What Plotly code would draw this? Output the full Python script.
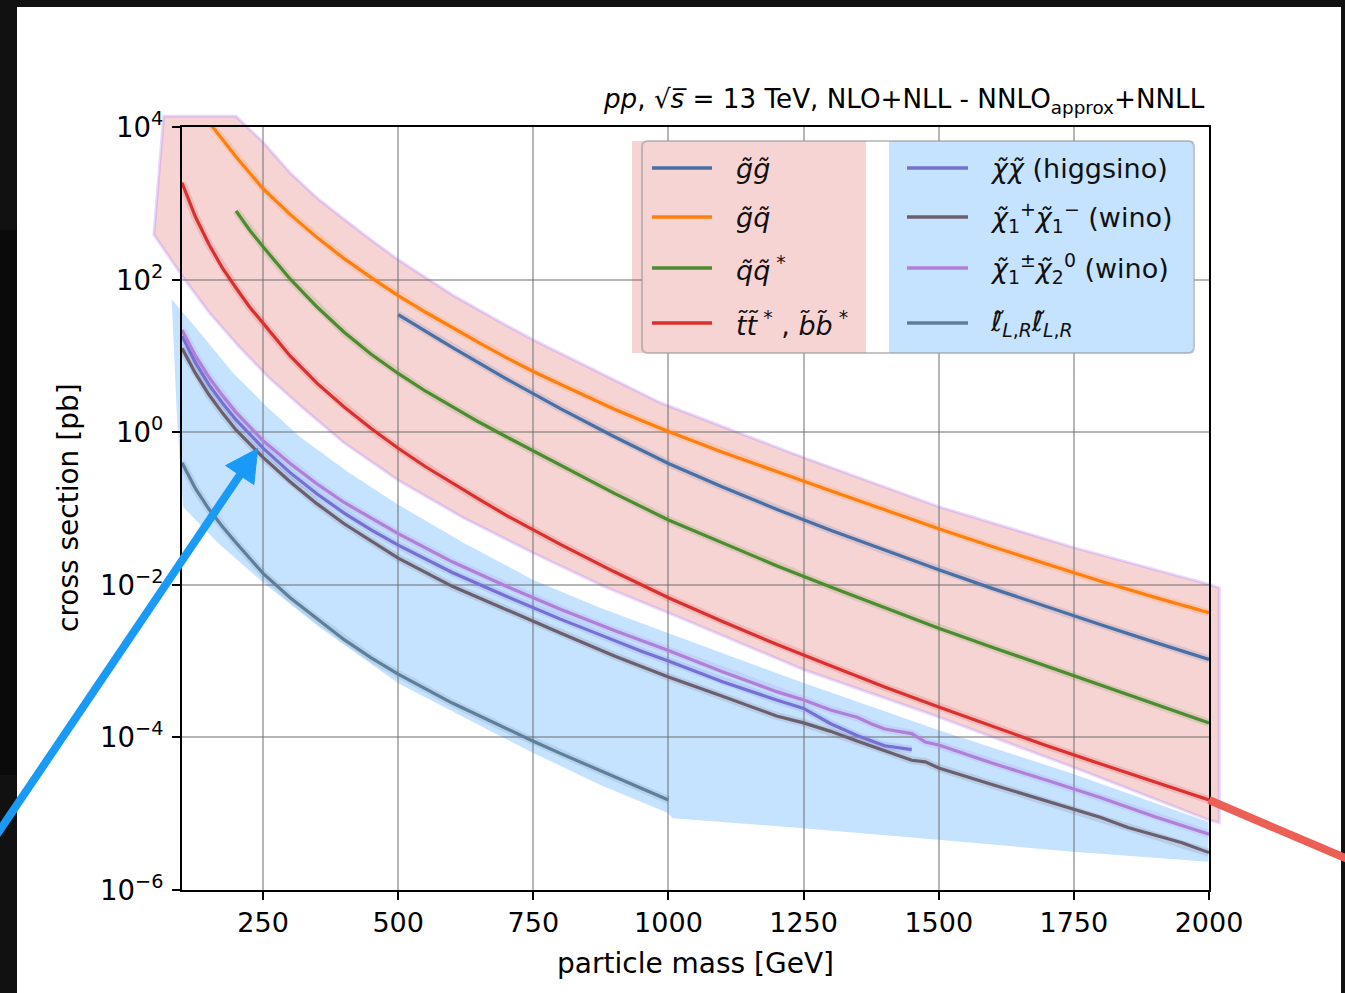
import plotly.graph_objects as go
import numpy as np

# ---------------- data (cross sections in pb vs particle mass in GeV) ----------------
mass_gg = [500, 600, 700, 800, 900, 1000, 1100, 1200, 1300, 1400, 1500, 1600, 1700, 1800, 1900, 2000]
xsec_gg = [34.7, 12.9, 5.01, 2.04, 0.871, 0.389, 0.191, 0.0977, 0.0519, 0.0282, 0.0157,
           0.00891, 0.00513, 0.00299, 0.00176, 0.00105]

mass_gq = [150, 200, 250, 300, 350, 400, 450, 500, 550, 600, 650, 700, 750, 800, 850, 900, 950,
           1000, 1100, 1200, 1250, 1300, 1400, 1500, 1600, 1700, 1800, 1900, 2000]
xsec_gq = [11500, 4070, 1550, 716, 355, 188, 106, 61.7, 37.6, 23.3, 14.8, 9.51, 6.24, 4.25,
           2.89, 2.00, 1.42, 1.02, 0.546, 0.303, 0.228, 0.171, 0.0961, 0.0541, 0.0315, 0.0185,
           0.0111, 0.00684, 0.00430]

mass_qq = [200, 225, 250, 300, 350, 400, 450, 500, 550, 600, 650, 700, 750, 800, 900, 1000,
           1100, 1200, 1300, 1400, 1500, 1600, 1700, 1800, 1900, 2000]
xsec_qq = [794, 447, 269, 102, 43.7, 20.4, 10.5, 5.89, 3.47, 2.14, 1.35, 0.871, 0.569, 0.372,
           0.158, 0.0708, 0.0355, 0.0178, 0.00933, 0.00501, 0.00269, 0.00151, 0.000851,
           0.000479, 0.000269, 0.000155]

mass_tt = [100, 125, 150, 175, 200, 225, 250, 300, 350, 400, 450, 500, 550, 600, 650, 700, 750,
           800, 900, 1000, 1100, 1200, 1300, 1400, 1500, 1600, 1700, 1800, 1900, 2000]
xsec_tt = [1860, 661, 288, 141, 77.6, 43.7, 26.9, 10.0, 4.37, 2.14, 1.12, 0.617, 0.355, 0.214,
           0.132, 0.0813, 0.0525, 0.0339, 0.0148, 0.00676, 0.00331, 0.00166, 0.000871,
           0.000457, 0.000251, 0.000138, 7.76e-5, 4.47e-5, 2.57e-5, 1.51e-5]

mass_hh = [100, 125, 150, 175, 200, 250, 300, 350, 400, 450, 500, 600, 700, 800, 875, 900, 950,
           1000, 1050, 1100, 1200, 1250, 1300, 1350, 1400, 1450]
xsec_hh = [18.2, 8.13, 4.17, 2.40, 1.45, 0.617, 0.295, 0.155, 0.0871, 0.0525, 0.0331, 0.0145,
           0.00708, 0.00355, 0.00219, 0.00186, 0.00135, 0.00100, 0.000724, 0.000537,
           0.000309, 0.000240, 0.000151, 0.000105, 7.76e-5, 6.92e-5]

mass_c1c1 = [100, 125, 150, 175, 200, 250, 300, 350, 400, 450, 500, 600, 700, 750, 800, 900, 1000,
             1100, 1200, 1250, 1300, 1350, 1400, 1450, 1475, 1500, 1600, 1700, 1750, 1800, 1850,
             1900, 1950, 2000]
xsec_c1c1 = [12.6, 5.89, 3.09, 1.78, 1.07, 0.468, 0.224, 0.115, 0.0631, 0.0372, 0.0224, 0.00955,
             0.00468, 0.00331, 0.00234, 0.00117, 0.000617, 0.000347, 0.000191, 0.000155,
             0.000120, 8.91e-5, 6.76e-5, 5.01e-5, 4.79e-5, 3.98e-5, 2.40e-5, 1.45e-5, 1.12e-5,
             8.91e-6, 6.61e-6, 5.25e-6, 4.17e-6, 3.09e-6]

mass_c1n2 = [100, 125, 150, 175, 200, 250, 300, 350, 400, 450, 500, 600, 700, 800, 900, 1000,
             1100, 1200, 1250, 1300, 1350, 1375, 1400, 1450, 1475, 1500, 1600, 1700, 1800, 1900, 2000]
xsec_c1n2 = [21.9, 10.0, 5.25, 3.02, 1.82, 0.776, 0.389, 0.209, 0.120, 0.0741, 0.0468, 0.0200,
             0.00955, 0.00479, 0.00251, 0.00138, 0.000724, 0.000398, 0.000309, 0.000229,
             0.000182, 0.000151, 0.000129, 0.000112, 8.71e-5, 7.94e-5, 4.57e-5, 2.75e-5,
             1.62e-5, 9.12e-6, 5.37e-6]

mass_sl = [100, 125, 150, 175, 200, 250, 300, 350, 400, 450, 500, 600, 700, 750, 800, 900, 1000]
xsec_sl = [0.398, 0.182, 0.0977, 0.0575, 0.0355, 0.0141, 0.00676, 0.00355, 0.00191, 0.00110,
           0.000676, 0.000282, 0.000129, 8.91e-5, 6.17e-5, 3.02e-5, 1.51e-5]

# highlight regions (mass [GeV], cross section [pb]); they reach a little beyond the axes
band_strong_mass = [66, 200, 250, 300, 350, 400, 450, 500, 600, 700, 750, 850, 984, 1249, 1501,
                    1749, 1999, 2019,
                    2019, 1999, 1749, 1499, 1249, 1021, 880, 749, 620, 500, 400, 318, 260, 207,
                    150, 102, 48]
band_strong_xsec = [13800, 13800, 6310, 2510, 1170, 617, 331, 182, 63.1, 25.1, 16.2, 7.24, 2.45,
                    0.468, 0.105, 0.0309, 0.0102, 0.00912,
                    7.59e-6, 8.32e-6, 4.07e-5, 1.86e-4, 7.76e-4, 3.72e-3, 9.55e-3, 0.0263,
                    0.0759, 0.234, 0.724, 2.24, 5.25, 12.9, 37.2, 107, 389]
band_ew_mass = [81, 133, 194, 257, 318, 409, 500, 624, 749, 873, 999, 1249, 1499, 1749, 1999,
                1999, 1749, 1499, 1249, 1008, 999, 873, 749, 666, 500, 353, 250, 166, 102, 91]
band_ew_xsec = [54.7, 20.2, 6.03, 2.16, 0.873, 0.294, 0.112, 0.0345, 0.01164, 0.00499, 0.00234,
                5.19e-4, 1.25e-4, 3.32e-5, 7.80e-6,
                2.34e-6, 3.16e-6, 4.57e-6, 6.46e-6, 8.71e-6, 1.02e-5, 2.40e-5, 6.31e-5, 1.26e-4,
                5.13e-4, 2.82e-3, 0.0107, 0.0355, 0.105, 1.45]

# call-out arrow of the screenshot points at this (mass, cross section)
arrow_mass, arrow_xsec = 240, 0.61

x_ticks = [250, 500, 750, 1000, 1250, 1500, 1750, 2000]
y_ticks = [1e-6, 1e-4, 1e-2, 1e0, 1e2, 1e4]
y_exponents = ["−6", "−4", "−2", "0", "2", "4"]
x_range = [100, 2000]
y_range_log = [-6, 4]

labels = {
    "gg": "<i>g̃g̃</i>",
    "gq": "<i>g̃q̃</i>",
    "qq": "<i>q̃q̃</i><sup> *</sup>",
    "tt": "<i>t̃t̃</i><sup> *</sup> , <i>b̃b̃</i><sup> *</sup>",
    "hh": "<i>χ̃χ̃</i> (higgsino)",
    "c1c1": "<i>χ̃</i><sub>1</sub><sup>+</sup><i>χ̃</i><sub>1</sub><sup>−</sup> (wino)",
    "c1n2": "<i>χ̃</i><sub>1</sub><sup>±</sup><i>χ̃</i><sub>2</sub><sup>0</sup> (wino)",
    "sl": "<i>ℓ̃</i><sub><i>L</i>,<i>R</i></sub><i>ℓ̃</i><sub><i>L</i>,<i>R</i></sub>",
}
colors = {
    "gg": "#4a6fa5", "gq": "#ff7f0e", "qq": "#4d8b31", "tt": "#d93030",
    "hh": "#7570d2", "c1c1": "#6b5f6e", "c1n2": "#b07fd8", "sl": "#5f7f99",
}
series = [
    ("gg", mass_gg, xsec_gg, "strong"), ("gq", mass_gq, xsec_gq, "strong"),
    ("qq", mass_qq, xsec_qq, "strong"), ("tt", mass_tt, xsec_tt, "strong"),
    ("hh", mass_hh, xsec_hh, "ew"), ("c1c1", mass_c1c1, xsec_c1c1, "ew"),
    ("c1n2", mass_c1n2, xsec_c1n2, "ew"), ("sl", mass_sl, xsec_sl, "ew"),
]

# ---------------- figure geometry ----------------
W, H = 1345, 993
ML, MR, MT, MB = 182, 136, 127, 103
PW, PH = W - ML - MR, H - MT - MB
FONT = "DejaVu Sans"


def px2paper(px, py):
    return (px - ML) / PW, (H - MB - py) / PH


def paper2px(a, b):
    return ML + a * PW, H - MB - b * PH


def data2paper(m, s):
    return ((m - x_range[0]) / (x_range[1] - x_range[0]),
            (np.log10(s) - y_range_log[0]) / (y_range_log[1] - y_range_log[0]))


def fmt(pt):
    return f"{pt[0]:.5f},{pt[1]:.5f}"


def poly_path(ms, ss):
    return "M" + " L".join(fmt(data2paper(m, s)) for m, s in zip(ms, ss)) + " Z"


def rect_px(x0, y0, x1, y1, **kw):
    a0, b0 = px2paper(x0, y1)
    a1, b1 = px2paper(x1, y0)
    return dict(type="rect", xref="paper", yref="paper", x0=a0, y0=b0, x1=a1, y1=b1, **kw)


def rounded_path_px(x0, y0, x1, y1, r):
    def P(x, y):
        return fmt(px2paper(x, y))
    return (f"M{P(x0 + r, y0)} L{P(x1 - r, y0)} Q{P(x1, y0)} {P(x1, y0 + r)} "
            f"L{P(x1, y1 - r)} Q{P(x1, y1)} {P(x1 - r, y1)} L{P(x0 + r, y1)} "
            f"Q{P(x0, y1)} {P(x0, y1 - r)} L{P(x0, y0 + r)} Q{P(x0, y0)} {P(x0 + r, y0)} Z")


fig = go.Figure()

for key, m, s, grp in series:
    fig.add_trace(go.Scatter(x=m, y=s, mode="lines", showlegend=False, hoverinfo="skip",
                             line=dict(color=colors[key], width=8), opacity=0.16))
for key, m, s, grp in series:
    fig.add_trace(go.Scatter(x=m, y=s, mode="lines", name=key, showlegend=False,
                             line=dict(color=colors[key], width=3.2)))

shapes = []
shapes.append(rect_px(17, 7, 1341, H, fillcolor="white", line_width=0, layer="below"))
shapes.append(rect_px(0, 230, 17, 775, fillcolor="#0a0a0a", line_width=0, layer="below"))
shapes.append(dict(type="path", xref="paper", yref="paper", layer="below",
                   path=poly_path(band_ew_mass, band_ew_xsec),
                   fillcolor="rgba(30,144,255,0.26)", line=dict(width=0)))
shapes.append(dict(type="path", xref="paper", yref="paper", layer="below",
                   path=poly_path(band_strong_mass, band_strong_xsec),
                   fillcolor="rgba(214,39,40,0.20)",
                   line=dict(color="rgba(170,120,255,0.28)", width=3)))
# legend boxes
shapes.append(dict(type="path", xref="paper", yref="paper", layer="above",
                   path=rounded_path_px(642, 141, 1194, 353, 6), fillcolor="white", line_width=0))
shapes.append(rect_px(632, 141, 866, 353, fillcolor="rgba(214,39,40,0.20)", line_width=0, layer="above"))
shapes.append(rect_px(889, 141, 1193, 353, fillcolor="rgba(30,144,255,0.26)", line_width=0, layer="above"))
shapes.append(dict(type="path", xref="paper", yref="paper", layer="above",
                   path=rounded_path_px(642, 141, 1194, 353, 6),
                   line=dict(color="rgba(150,150,150,0.55)", width=2)))

annotations = []
row_y = [168, 217, 268, 323]
for i, (key, m, s, grp) in enumerate(series):
    col = 0 if grp == "strong" else 1
    r = i % 4
    lx0, lx1, tx = (652, 712, 734) if col == 0 else (907, 968, 988)
    a0, b = px2paper(lx0, row_y[r])
    a1, _ = px2paper(lx1, row_y[r])
    shapes.append(dict(type="line", xref="paper", yref="paper", layer="above",
                       x0=a0, x1=a1, y0=b, y1=b, line=dict(color=colors[key], width=3.5)))
    ta, tb = px2paper(tx, row_y[r])
    annotations.append(dict(xref="paper", yref="paper", x=ta, y=tb, xanchor="left", yanchor="middle",
                            text=labels[key], showarrow=False,
                            font=dict(family=FONT, size=27, color="#111111")))

# header text
hx, hy = px2paper(1207, 101)
annotations.append(dict(xref="paper", yref="paper", x=hx, y=hy, xanchor="right", yanchor="middle",
                        text="<i>pp</i>, √<i>s̅</i> = 13 TeV, NLO+NLL - NNLO<sub>approx</sub>+NNLL",
                        showarrow=False, font=dict(family=FONT, size=26.2, color="black")))

# y-axis title placed exactly
yt_x, yt_y = px2paper(68, 508)
annotations.append(dict(xref="paper", yref="paper", x=yt_x, y=yt_y, xanchor="center", yanchor="middle",
                        text="cross section [pb]", textangle=-90, showarrow=False,
                        font=dict(family=FONT, size=28, color="black")))

# y tick labels (10 with a raised exponent) placed next to each tick
lx, _ = px2paper(165, 0)
for val, ex in zip(y_ticks, y_exponents):
    _, ly = data2paper(x_range[0], val)
    annotations.append(dict(xref="paper", yref="paper", x=lx, y=ly, xanchor="right", yanchor="middle",
                            text=f"10<sup>{ex}</sup>", showarrow=False, yshift=2,
                            font=dict(family=FONT, size=27.5, color="black")))

# ---- call-out arrows of the screenshot (drawn as paper shapes) ----
tip = np.array(paper2px(*data2paper(arrow_mass, arrow_xsec)))
u = np.array([258.8, -383.0])
u = u / np.linalg.norm(u)
nrm = np.array([-u[1], u[0]])
base = tip - 32 * u
tail = tip - 520 * u
shapes.append(dict(type="line", xref="paper", yref="paper", layer="above",
                   x0=px2paper(*tail)[0], y0=px2paper(*tail)[1],
                   x1=px2paper(*(base + 2 * u))[0], y1=px2paper(*(base + 2 * u))[1],
                   line=dict(color="#189af6", width=8)))
c1, c2 = base + 17 * nrm, base - 17 * nrm
shapes.append(dict(type="path", xref="paper", yref="paper", layer="above",
                   path=f"M{fmt(px2paper(*tip))} L{fmt(px2paper(*c1))} L{fmt(px2paper(*c2))} Z",
                   fillcolor="#189af6", line=dict(color="#189af6", width=1)))

rs = np.array(paper2px(*data2paper(mass_tt[-1], xsec_tt[-1])))
rv = np.array([137.0, 58.3])
re = rs + 1.5 * rv
shapes.append(dict(type="line", xref="paper", yref="paper", layer="above",
                   x0=px2paper(*rs)[0], y0=px2paper(*rs)[1], x1=px2paper(*re)[0], y1=px2paper(*re)[1],
                   line=dict(color="#ec5f57", width=8)))

axis_common = dict(showline=True, linecolor="black", linewidth=2, mirror=True, ticks="outside",
                   ticklen=8, tickwidth=1.6, tickcolor="black", showgrid=True,
                   gridcolor="rgba(110,110,110,0.5)", gridwidth=1.6, zeroline=False,
                   tickfont=dict(family=FONT, size=27, color="black"))

fig.update_layout(
    width=W, height=H, margin=dict(l=ML, r=MR, t=MT, b=MB, pad=0),
    paper_bgcolor="#111111", plot_bgcolor="white",
    font=dict(family=FONT, color="black"),
    showlegend=False,
    xaxis=dict(range=x_range, tickvals=x_ticks, **axis_common,
               title=dict(text="particle mass [GeV]", font=dict(family=FONT, size=28), standoff=16)),
    yaxis=dict(type="log", range=y_range_log, tickvals=y_ticks, showticklabels=False, **axis_common),
    shapes=shapes, annotations=annotations,
)

fig.write_html("out.html", config={"displayModeBar": False},
               post_script="document.body.style.margin='0';document.body.style.overflow='hidden';")
